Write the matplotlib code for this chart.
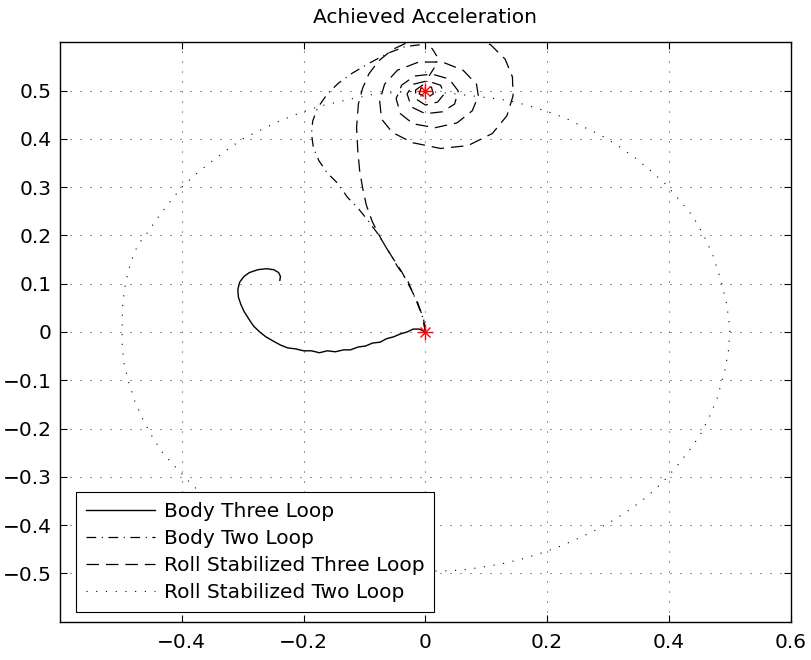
import matplotlib
matplotlib.use("Agg")
import matplotlib.pyplot as plt

# trajectories (x, y in acceleration units)
body3_x = [0, -0.010, -0.020, -0.030, -0.041, -0.052, -0.064, -0.074, -0.087, -0.098,
           -0.110, -0.123, -0.134, -0.148, -0.161, -0.174, -0.187, -0.200, -0.213, -0.226,
           -0.238, -0.251, -0.262, -0.272, -0.282, -0.290, -0.298, -0.303, -0.307, -0.308,
           -0.305, -0.298, -0.289, -0.275, -0.261, -0.249, -0.241, -0.238, -0.239]
body3_y = [0, 0.006, 0.006, 0.000, -0.004, -0.010, -0.014, -0.021, -0.023, -0.029,
           -0.031, -0.037, -0.037, -0.041, -0.039, -0.043, -0.039, -0.039, -0.035, -0.033,
           -0.027, -0.018, -0.010, 0.000, 0.012, 0.027, 0.043, 0.057, 0.072, 0.088,
           0.103, 0.115, 0.123, 0.129, 0.131, 0.129, 0.123, 0.115, 0.107]

body2_x = [0, -0.005, -0.016, -0.028, -0.046, -0.062, -0.079, -0.095, -0.111, -0.128,
           -0.144, -0.161, -0.175, -0.184, -0.187, -0.185, -0.177, -0.161, -0.143, -0.120,
           -0.093, -0.062, -0.033, -0.008, 0.011, 0.020, 0.015, 0.005, 0, 0]
body2_y = [0, 0.033, 0.068, 0.103, 0.136, 0.170, 0.205, 0.232, 0.257, 0.279,
           0.308, 0.329, 0.355, 0.382, 0.411, 0.437, 0.464, 0.493, 0.515, 0.536,
           0.556, 0.577, 0.591, 0.595, 0.587, 0.569, 0.548, 0.528, 0.511, 0.5]

roll3_x = [0, -0.003, -0.013, -0.025, -0.039, -0.056, -0.072, -0.087, -0.097, -0.103,
           -0.108, -0.111, -0.113, -0.110, -0.103, -0.093, -0.077, -0.054, -0.025, 0.016,
           0.066, 0.107, 0.131, 0.143, 0.144, 0.134, 0.110, 0.070, 0.025, -0.021,
           -0.054, -0.072, -0.075, -0.067, -0.046, -0.011, 0.028, 0.062, 0.084, 0.087,
           0.077, 0.052, 0.016, -0.020, -0.041, -0.048, -0.039, -0.018, 0.011, 0.039,
           0.054, 0.048, 0.028, 0, -0.023, -0.030, -0.020, 0.003, 0.025, 0.031,
           0.020, 0, -0.016, -0.016, -0.005, 0.010, 0.013, 0.002, -0.010, -0.007,
           0.003, 0]
roll3_y = [0, 0.027, 0.062, 0.092, 0.125, 0.158, 0.191, 0.228, 0.263, 0.298,
           0.335, 0.376, 0.423, 0.472, 0.505, 0.534, 0.561, 0.585, 0.602, 0.610,
           0.608, 0.595, 0.565, 0.528, 0.489, 0.448, 0.411, 0.386, 0.380, 0.392,
           0.413, 0.441, 0.478, 0.513, 0.542, 0.559, 0.559, 0.542, 0.513, 0.489,
           0.458, 0.433, 0.423, 0.431, 0.452, 0.483, 0.511, 0.530, 0.534, 0.524,
           0.499, 0.472, 0.456, 0.452, 0.466, 0.493, 0.513, 0.520, 0.511, 0.493,
           0.476, 0.470, 0.483, 0.501, 0.511, 0.507, 0.493, 0.485, 0.493, 0.505,
           0.503, 0.5]

roll2_x = [0, 0.049, 0.090, 0.134, 0.166, 0.197, 0.228, 0.259, 0.289, 0.316,
           0.344, 0.369, 0.393, 0.416, 0.439, 0.456, 0.472, 0.485, 0.495, 0.500,
           0.498, 0.492, 0.479, 0.466, 0.451, 0.433, 0.411, 0.389, 0.364, 0.338,
           0.311, 0.282, 0.252, 0.221, 0.190, 0.159, 0.126, 0.093, 0.061, 0.028,
           -0.025, -0.090, -0.172, -0.254, -0.328, -0.385, -0.408, -0.430, -0.448, -0.464,
           -0.477, -0.487, -0.495, -0.498, -0.498, -0.497, -0.492, -0.484, -0.472, -0.459,
           -0.441, -0.421, -0.400, -0.375, -0.349, -0.323, -0.297, -0.266, -0.236, -0.205,
           -0.172, -0.131, -0.090, -0.041, 0]
roll2_y = [0.499, 0.493, 0.487, 0.480, 0.470, 0.458, 0.444, 0.425, 0.407, 0.386,
           0.361, 0.335, 0.308, 0.275, 0.240, 0.203, 0.160, 0.109, 0.057, 0.006,
           -0.037, -0.078, -0.138, -0.177, -0.214, -0.246, -0.281, -0.312, -0.341, -0.366,
           -0.388, -0.409, -0.427, -0.444, -0.458, -0.470, -0.480, -0.487, -0.493, -0.495,
           -0.495, -0.487, -0.468, -0.435, -0.384, -0.314, -0.283, -0.253, -0.218, -0.181,
           -0.144, -0.105, -0.064, -0.023, 0.021, 0.062, 0.103, 0.144, 0.181, 0.201,
           0.234, 0.267, 0.300, 0.329, 0.355, 0.380, 0.402, 0.421, 0.439, 0.454,
           0.468, 0.480, 0.491, 0.497, 0.499]

# commanded points
cmd_x = [0, 0]
cmd_y = [0, 0.5]

labels = ["Body Three Loop", "Body Two Loop",
          "Roll Stabilized Three Loop", "Roll Stabilized Two Loop"]
xticks = [-0.4, -0.2, 0, 0.2, 0.4, 0.6]
xtick_labels = ["\u22120.4", "\u22120.2", "0", "0.2", "0.4", "0.6"]
yticks = [-0.5, -0.4, -0.3, -0.2, -0.1, 0, 0.1, 0.2, 0.3, 0.4, 0.5]
ytick_labels = ["\u22120.5", "\u22120.4", "\u22120.3", "\u22120.2", "\u22120.1", "0",
                "0.1", "0.2", "0.3", "0.4", "0.5"]

plt.rcParams["font.family"] = ["DejaVu Sans"]
plt.rcParams["lines.scale_dashes"] = False

fig = plt.figure(figsize=(8.11, 6.6), dpi=100)
ax = fig.add_axes([0.074, 0.058, 0.901, 0.878])

ax.plot(body3_x, body3_y, color="k", lw=1.0, label=labels[0])
ax.plot(body2_x, body2_y, color="k", lw=0.9, linestyle=(0, (7, 4, 0.8, 4)), label=labels[1])
ax.plot(roll3_x, roll3_y, color="k", lw=0.9, linestyle=(0, (9, 5)), label=labels[2])
ax.plot(roll2_x, roll2_y, color="k", lw=0.8, linestyle=(0, (0.8, 6.2)), label=labels[3])

# MATLAB style asterisk
ax.plot(cmd_x, cmd_y, linestyle="none", marker="+", ms=11, mew=1.0, color="red")
ax.plot(cmd_x, cmd_y, linestyle="none", marker="x", ms=7.8, mew=1.0, color="red")

ax.set_xlim(-0.6, 0.6)
ax.set_ylim(-0.6, 0.6)
ax.set_xticks(xticks)
ax.set_xticklabels(xtick_labels)
ax.set_yticks(yticks)
ax.set_yticklabels(ytick_labels)
ax.tick_params(direction="in", top=True, right=True, length=5, width=0.8,
               labelsize=14.5)
ax.tick_params(axis="x", pad=8)
ax.tick_params(axis="y", pad=6)
ax.grid(True, color="k", lw=0.6, linestyle=(0, (0.7, 6.5)))
for s in ax.spines.values():
    s.set_linewidth(1.0)

ax.set_title("Achieved Acceleration", fontsize=14.5, pad=14)

leg = ax.legend(loc="lower left", bbox_to_anchor=(0.0219, 0.0172), borderaxespad=0,
                fontsize=14.5, fancybox=False, edgecolor="k", framealpha=1,
                borderpad=0.5, labelspacing=0.39, handlelength=3.4, handletextpad=0.45)
leg.get_frame().set_linewidth(0.8)

fig.savefig("out.png", dpi=100, facecolor="white")
